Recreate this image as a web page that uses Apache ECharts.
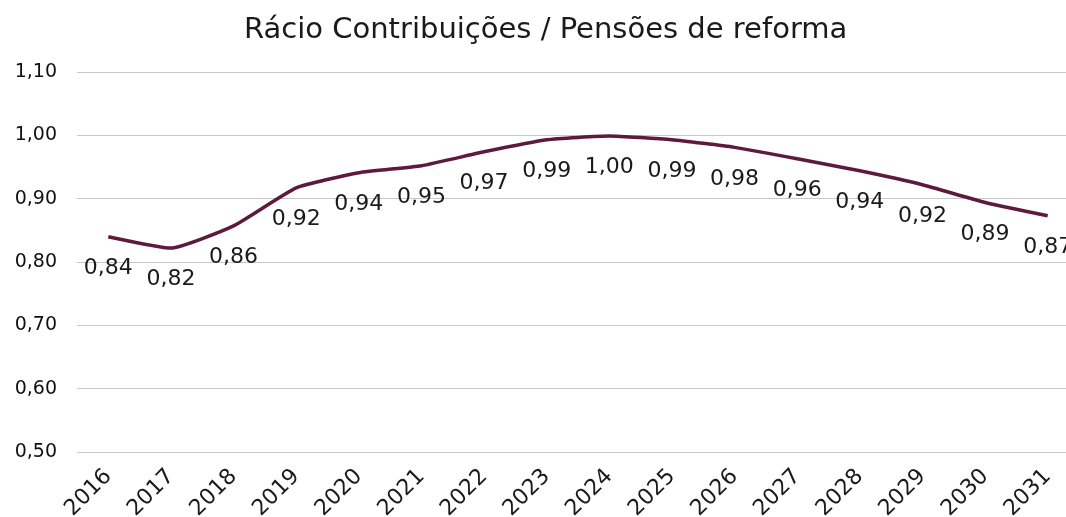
<!DOCTYPE html>
<html>
<head>
<meta charset="utf-8">
<script src="https://cdn.jsdelivr.net/npm/echarts@6/dist/echarts.min.js"></script>
<style>
  html, body { margin: 0; padding: 0; background: #fff; }
  #chart { width: 1066px; height: 517px; }
</style>
</head>
<body>
<div id="chart"></div>
<script>
// years on the x axis
var years = ['2016', '2017', '2018', '2019', '2020', '2021', '2022', '2023',
  '2024', '2025', '2026', '2027', '2028', '2029', '2030', '2031']
// ratio contributions / retirement pensions
var ratio = [0.840, 0.822, 0.857, 0.917, 0.941, 0.952, 0.974, 0.993,
  0.999, 0.993, 0.981, 0.963, 0.944, 0.922, 0.894, 0.873]
var yMin = 0.5
var yMax = 1.1
var yStep = 0.1

function comma(v) {
  return v.toFixed(2).replace('.', ',')
}

var chart = echarts.init(document.getElementById('chart'))
chart.setOption({
  animation: false,
  title: {
    text: 'Rácio Contribuições / Pensões de reforma',
    left: 244,
    top: 16,
    padding: 0,
    textStyle: {
      fontFamily: 'DejaVu Sans',
      fontSize: 29,
      fontWeight: 'normal',
      color: '#1a1a1a'
    }
  },
  grid: { left: 77, top: 72, width: 1002, height: 380, outerBoundsMode: 'none' },
  xAxis: {
    type: 'category',
    data: years,
    boundaryGap: true,
    axisLine: { show: false },
    axisTick: { show: false },
    axisLabel: {
      rotate: 45,
      margin: 21,
      interval: 0,
      fontFamily: 'DejaVu Sans',
      fontSize: 22,
      color: '#1a1a1a'
    }
  },
  yAxis: {
    type: 'value',
    min: yMin,
    max: yMax,
    interval: yStep,
    axisLine: { show: false },
    axisTick: { show: false },
    axisLabel: {
      margin: 20,
      fontFamily: 'DejaVu Sans',
      fontSize: 19,
      color: '#111',
      formatter: comma
    },
    splitLine: { lineStyle: { color: '#c8c8c8', width: 1 } }
  },
  series: [{
    type: 'line',
    data: ratio,
    smooth: 0.15,
    symbol: 'circle',
    symbolSize: 1,
    showSymbol: true,
    itemStyle: { color: 'rgba(0,0,0,0)' },
    lineStyle: { color: '#5e1a3c', width: 3.5 },
    label: {
      show: true,
      position: 'bottom',
      distance: 20,
      fontFamily: 'DejaVu Sans',
      fontSize: 22,
      color: '#1a1a1a',
      formatter: function (p) { return comma(p.value) }
    }
  }]
})
</script>
</body>
</html>
